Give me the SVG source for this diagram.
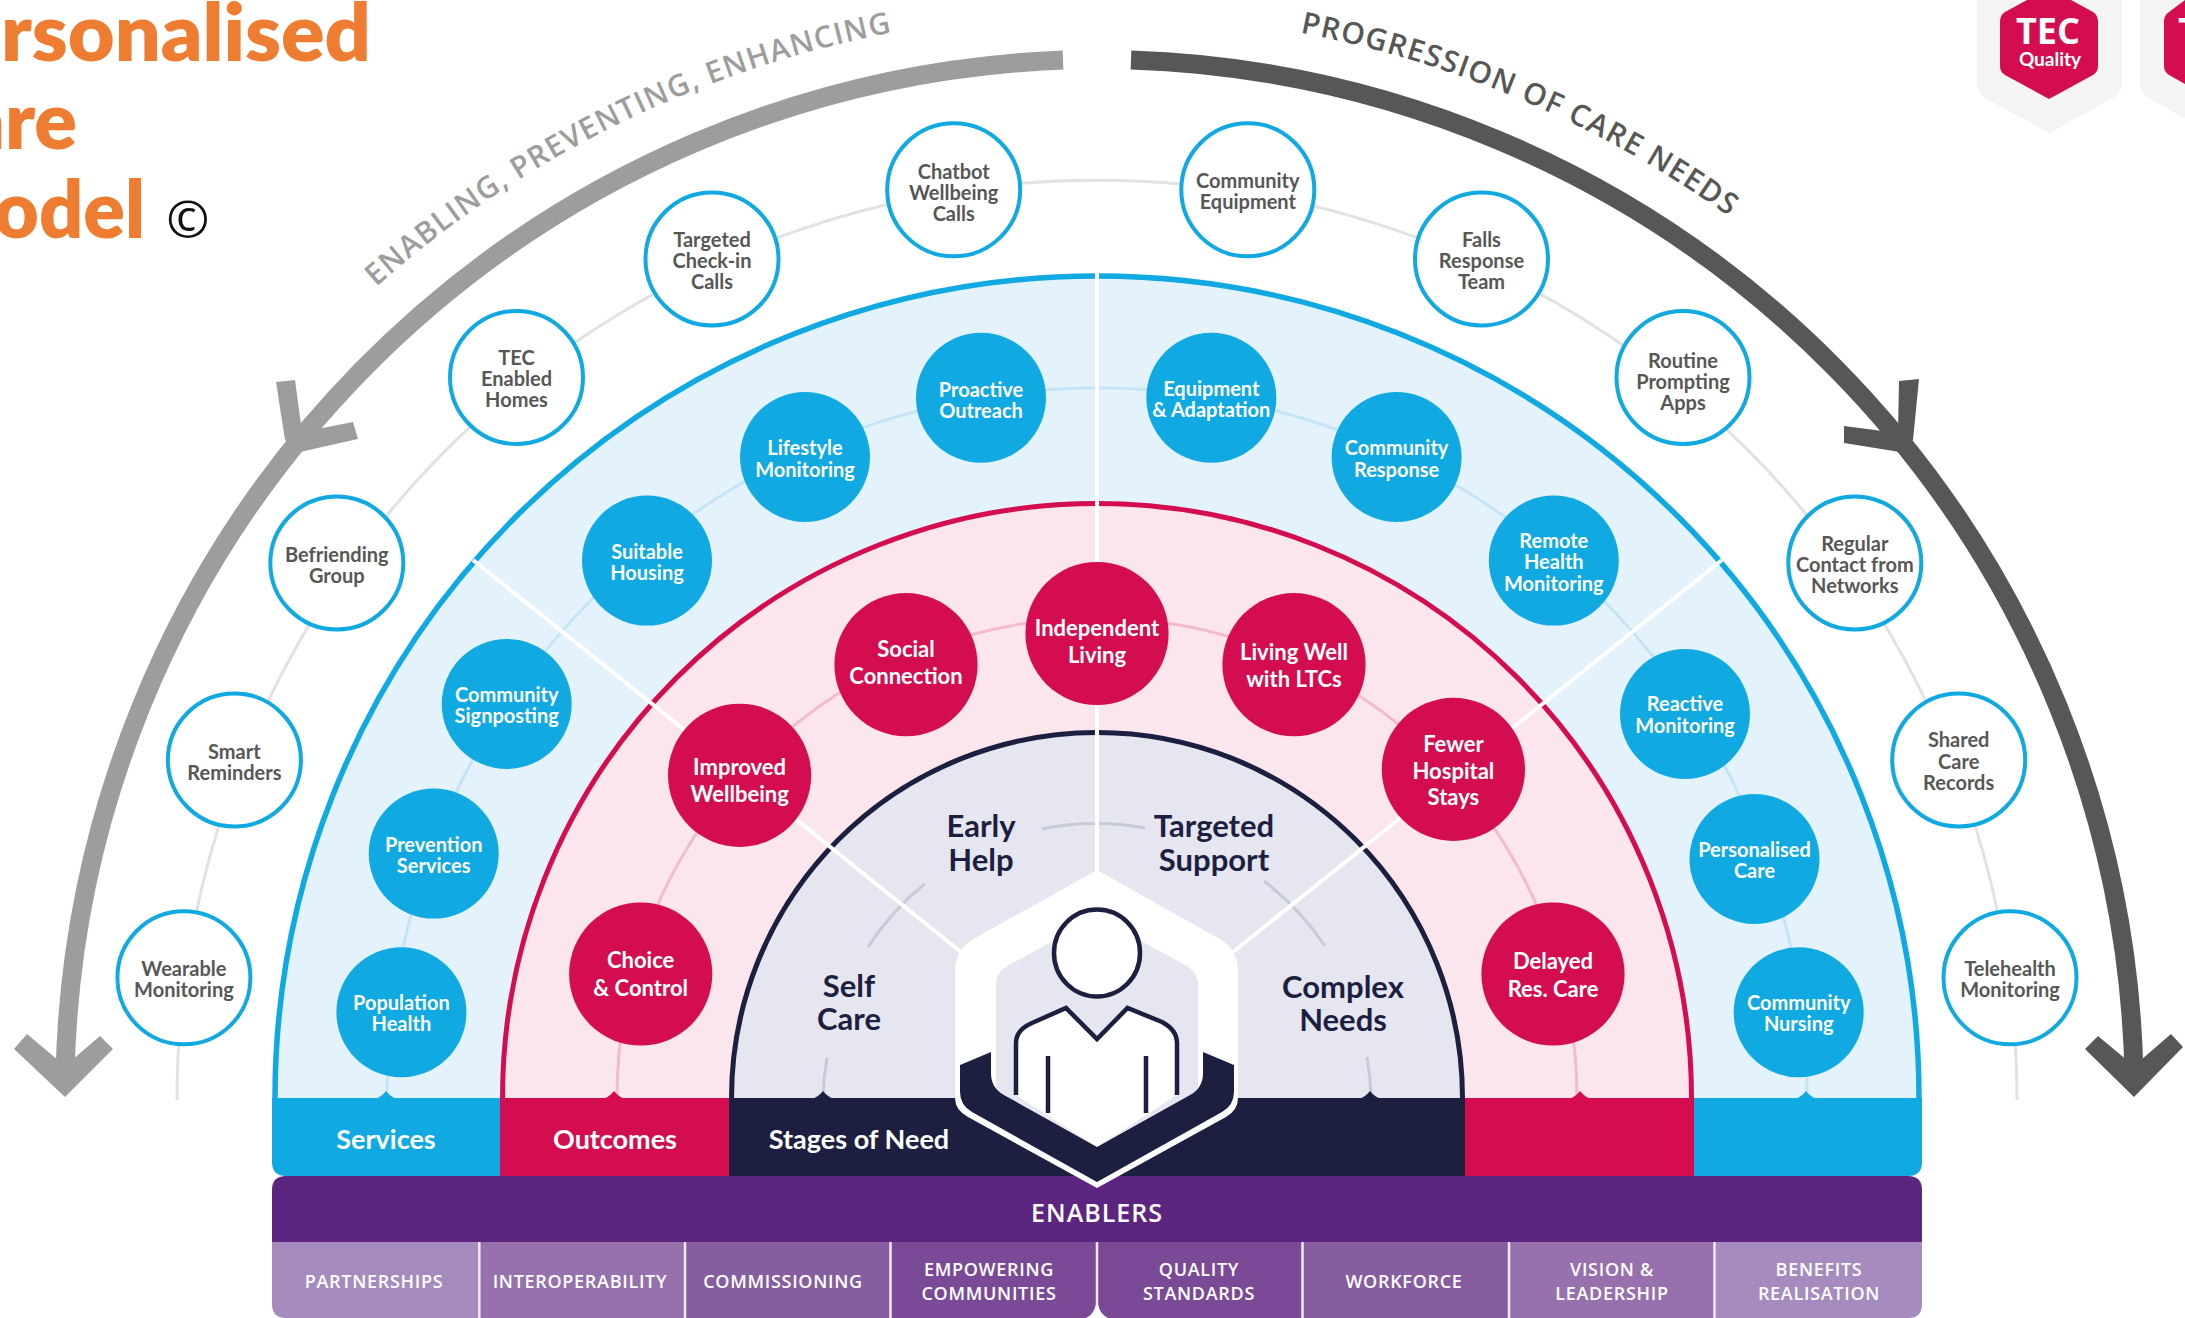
<svg xmlns="http://www.w3.org/2000/svg" width="2185" height="1318" viewBox="0 0 2185 1318">
<defs>
<style>
text{font-family:"Open Sans","Noto Sans","Liberation Sans",sans-serif;font-weight:600;text-anchor:middle}
.oc{fill:#fff;stroke:#10a9e2;stroke-width:4}
.bc{fill:#10a9e2}
.rc{fill:#d40d50}
.ot{fill:#575756;font-size:20px;font-family:Lato,"Open Sans",sans-serif;font-weight:700}
.bt{fill:#fff;font-size:20px;font-family:Lato,"Open Sans",sans-serif;font-weight:700}
.rt{fill:#fff;font-size:22px;font-family:Lato,"Open Sans",sans-serif;font-weight:700}
.st{fill:#1d1f41;font-size:31px;font-family:Lato,"Open Sans",sans-serif;font-weight:700}
.lb{fill:#fff;font-size:27px;font-family:Lato,"Open Sans",sans-serif;font-weight:700}
.en{fill:#fff;font-size:25px;letter-spacing:1px}
.ce{fill:#fff;font-size:18px;letter-spacing:.7px}
.ttl{fill:#ef7d31;font-size:79px;font-weight:800;font-family:Lato,"Open Sans",sans-serif;text-anchor:start}
.g{fill:none;stroke-width:3}
.dv{stroke:#fff;stroke-width:4;fill:none}
.sep{stroke:#efe9f3;stroke-width:2.5}
.arr{fill:none;stroke-width:19}
.curv{font-size:30px;text-anchor:start}
</style>
<path id="pl" d="M376 287A1085 1085 0 0 1 1097 13"/>
<path id="pr" d="M1300 32.600A1085 1085 0 0 1 1794 267"/>
</defs>
<rect width="2185" height="1318" fill="#fff"/>
<g id="title">
<text class="ttl" x="1" y="61" textLength="370" lengthAdjust="spacingAndGlyphs">rsonalised</text>
<text class="ttl" x="-36" y="149" textLength="113" lengthAdjust="spacingAndGlyphs">are</text>
<text class="ttl" x="-6" y="238" textLength="151" lengthAdjust="spacingAndGlyphs">odel</text>
<text x="188" y="238" style="font-size:52px;font-weight:400;fill:#111">©</text>
</g>
<g id="badge-1">
<path d="M1977 0V83Q1977 93 1987 99L2049 133L2111 99Q2122 93 2122 83V0Z" fill="#f4f4f4"/>
<path d="M2027 0L2005 12Q2000 15 2000 22V66Q2000 72 2005 75L2049 99L2093 75Q2098 72 2098 66V22Q2098 15 2093 12L2071 0Z" fill="#d40d50"/>
<text x="2048" y="44" style="fill:#fff;font-size:36px;font-weight:700">TEC</text>
<text x="2050" y="66" style="fill:#fff;font-size:19px;font-weight:700;font-family:Lato,sans-serif">Quality</text>
</g>
<g id="badge-2">
<path d="M2140 0V83Q2140 93 2150 99L2185 118V0Z" fill="#f4f4f4"/>
<path d="M2185 0L2169 12Q2164 15 2164 22V66Q2164 72 2169 75L2185 84Z" fill="#d40d50"/>
<text x="2178" y="44" style="fill:#fff;font-size:36px;font-weight:700;text-anchor:start">T</text>
</g>
<g id="rings">
<path id="ring-services" d="M275 1098A822 822 0 0 1 1919 1098" fill="#e4f3fb" stroke="#10a9e2" stroke-width="5.500"/>
<path id="ring-outcomes" d="M502.500 1098A594.500 594.500 0 0 1 1691.500 1098" fill="#fbe6ee" stroke="#d40d50" stroke-width="5"/>
<path id="ring-stages" d="M731.500 1098A365.500 365.500 0 0 1 1462.500 1098" fill="#e5e6ef" stroke="#1d1f41" stroke-width="5"/>
</g>
<g id="connectors">
<path class="g" stroke="#e2e2e2" d="M177 1100A920 920 0 0 1 2017 1100"/>
<path class="g" stroke="#c5e4f5" d="M387 1098A710 710 0 0 1 1807 1098"/>
<path class="g" stroke="#f3bccb" d="M617 1098A480 480 0 0 1 1577 1098"/>
<path class="g" stroke="#c8cad6" d="M823 1098A274 274 0 0 1 827 1058M868 947A274 274 0 0 1 924.500 884M1042 829A274 274 0 0 1 1145 828M1264 881A274 274 0 0 1 1325 946M1367 1057A274 274 0 0 1 1371 1098"/>
<path class="dv" d="M1097 273V875M473 560L961 952M1722 560L1233 952"/>
<path id="arrow-left" class="arr" stroke="#9d9d9c" d="M1063 60A1038 1038 0 0 0 65 1075"/>
<polygon fill="#9d9d9c" points="14,1049 27,1034 65,1066 100,1036 113,1049 65,1097"/>
<polygon fill="#9d9d9c" points="276,382 295,380 302,432 353,422 358,439 300,452 285,440"/>
<path id="arrow-right" class="arr" stroke="#575756" d="M1131 60A1037 1037 0 0 1 2134 1075"/>
<polygon fill="#575756" points="2085,1049 2098,1036 2134,1066 2171,1034 2183,1047 2134,1097"/>
<polygon fill="#575756" points="1899,381 1919,379 1913,440 1900,452 1844,443 1844,426 1898,433"/>
</g>
<g id="bands">
<path d="M272 1098H500V1176H286Q272 1176 272 1162Z" fill="#10a9e2"/>
<rect x="500" y="1098" width="229" height="78" fill="#d40d50"/>
<rect x="729" y="1098" width="736" height="78" fill="#1d1f41"/>
<rect x="1465" y="1098" width="229" height="78" fill="#d40d50"/>
<path d="M1694 1098H1922V1162Q1922 1176 1908 1176H1694Z" fill="#10a9e2"/>
<path d="M376 1098.500Q381 1097 386 1091Q391 1097 396 1098.500Z" fill="#10a9e2"/>
<path d="M604 1098.500Q609 1097 614 1091Q619 1097 624 1098.500Z" fill="#d40d50"/>
<path d="M813 1098.500Q818 1097 823 1091Q828 1097 833 1098.500Z" fill="#1d1f41"/>
<path d="M1360 1098.500Q1365 1097 1370 1091Q1375 1097 1380 1098.500Z" fill="#1d1f41"/>
<path d="M1570 1098.500Q1575 1097 1580 1091Q1585 1097 1590 1098.500Z" fill="#d40d50"/>
<path d="M1796 1098.500Q1801 1097 1806 1091Q1811 1097 1816 1098.500Z" fill="#10a9e2"/>
</g>
<g id="enablers">
<path d="M272 1190Q272 1176 286 1176H1908Q1922 1176 1922 1190V1242H272Z" fill="#5b2580"/>
<path d="M272 1242H479V1318H286Q272 1318 272 1304Z" fill="#a68bbe"/>
<rect x="479" y="1242" width="206" height="76" fill="#9671ad"/>
<rect x="685" y="1242" width="206" height="76" fill="#875da1"/>
<rect x="891" y="1242" width="206" height="76" fill="#7b4a97"/>
<rect x="1097" y="1242" width="206" height="76" fill="#7b4a97"/>
<rect x="1303" y="1242" width="206" height="76" fill="#875da1"/>
<rect x="1509" y="1242" width="206" height="76" fill="#9671ad"/>
<path d="M1715 1242H1922V1304Q1922 1318 1908 1318H1715Z" fill="#a68bbe"/>
<path class="sep" d="M479.300 1242V1318M685 1242V1318M890.500 1242V1318M1097 1242V1318M1302.500 1242V1318M1509 1242V1318M1714.500 1242V1318"/>
<path d="M1086 1318Q1094 1314 1095.800 1305H1098.200Q1100 1314 1108 1318Z" fill="#fff"/>
<text class="en" x="1097" y="1222">ENABLERS</text>
<text class="ce" x="374" y="1288">PARTNERSHIPS</text>
<text class="ce" x="580" y="1288">INTEROPERABILITY</text>
<text class="ce" x="783" y="1288">COMMISSIONING</text>
<text class="ce"><tspan x="989" y="1276">EMPOWERING</tspan><tspan x="989" y="1300">COMMUNITIES</tspan></text>
<text class="ce"><tspan x="1199" y="1276">QUALITY</tspan><tspan x="1199" y="1300">STANDARDS</tspan></text>
<text class="ce" x="1404" y="1288">WORKFORCE</text>
<text class="ce"><tspan x="1612" y="1276">VISION &amp;</tspan><tspan x="1612" y="1300">LEADERSHIP</tspan></text>
<text class="ce"><tspan x="1819" y="1276">BENEFITS</tspan><tspan x="1819" y="1300">REALISATION</tspan></text>
</g>
<text class="curv" fill="#9d9d9c"><textPath href="#pl" textLength="582" lengthAdjust="spacing">ENABLING, PREVENTING, ENHANCING</textPath></text>
<text class="curv" fill="#575756"><textPath href="#pr" textLength="470" lengthAdjust="spacing">PROGRESSION OF CARE NEEDS</textPath></text>
<g id="hub">
<path d="M1097 870L1218 938Q1238 949 1238 972V1098Q1238 1110 1226 1117L1097 1188L968 1117Q955 1110 955 1098V972Q955 949 975 938Z" fill="#fff"/>
<path d="M1097 917L1185 965Q1198 972 1198 985V1090L1097 1147L996 1090V985Q996 972 1009 965Z" fill="#e5e6ef"/>
<path d="M1016 1095V1043Q1016 1030 1032 1023L1066 1008L1097 1039L1127.500 1008L1162 1022Q1177 1030 1177 1043V1095L1097 1147Z" fill="#fff"/>
<path d="M1016 1095V1043Q1016 1030 1032 1023L1066 1008L1097 1039L1127.500 1008L1162 1022Q1177 1030 1177 1043V1095M1048 1056V1113M1146 1056V1113" fill="none" stroke="#1d1f41" stroke-width="4.500"/>
<ellipse cx="1097" cy="953" rx="43" ry="43.500" fill="#fff" stroke="#1d1f41" stroke-width="4.500"/>
<path d="M960 1065L991 1052V1073Q991 1088 1004 1095L1097 1147L1190 1095Q1203 1088 1203 1073V1052L1234 1065V1092Q1234 1105 1222 1112L1097 1182L972 1112Q960 1105 960 1092Z" fill="#1d1f41"/>
</g>
<g id="band-labels">
<text class="lb" x="386" y="1149">Services</text>
<text class="lb" x="615" y="1149">Outcomes</text>
<text class="lb" x="859" y="1149">Stages of Need</text>
</g>
<g id="stage-early"><text class="st"><tspan x="981" y="837">Early</tspan><tspan x="981" y="871">Help</tspan></text></g>
<g id="stage-targeted"><text class="st"><tspan x="1214" y="837">Targeted</tspan><tspan x="1214" y="871">Support</tspan></text></g>
<g id="stage-self"><text class="st"><tspan x="849" y="997">Self</tspan><tspan x="849" y="1030">Care</tspan></text></g>
<g id="stage-complex"><text class="st"><tspan x="1343" y="998">Complex</tspan><tspan x="1343" y="1031">Needs</tspan></text></g>
<g id="n-chatbot"><circle class="oc" cx="953.700" cy="189.800" r="66.500"/><text class="ot"><tspan x="953.700" y="179">Chatbot</tspan><tspan x="953.700" y="200">Wellbeing</tspan><tspan x="953.700" y="221">Calls</tspan></text></g>
<g id="n-targeted"><circle class="oc" cx="712" cy="259" r="66.500"/><text class="ot"><tspan x="712" y="247">Targeted</tspan><tspan x="712" y="268">Check-in</tspan><tspan x="712" y="289">Calls</tspan></text></g>
<g id="n-tec"><circle class="oc" cx="516.500" cy="377.500" r="66.500"/><text class="ot"><tspan x="516.500" y="365">TEC</tspan><tspan x="516.500" y="386">Enabled</tspan><tspan x="516.500" y="407">Homes</tspan></text></g>
<g id="n-befriending"><circle class="oc" cx="336.800" cy="563" r="66.500"/><text class="ot"><tspan x="336.800" y="562">Befriending</tspan><tspan x="336.800" y="583">Group</tspan></text></g>
<g id="n-smart"><circle class="oc" cx="234.400" cy="760" r="66.500"/><text class="ot"><tspan x="234.400" y="759">Smart</tspan><tspan x="234.400" y="780">Reminders</tspan></text></g>
<g id="n-wearable"><circle class="oc" cx="183.900" cy="977.800" r="66.500"/><text class="ot"><tspan x="183.900" y="976">Wearable</tspan><tspan x="183.900" y="997">Monitoring</tspan></text></g>
<g id="n-equipment"><circle class="oc" cx="1247.800" cy="189.800" r="66.500"/><text class="ot"><tspan x="1247.800" y="188">Community</tspan><tspan x="1247.800" y="209">Equipment</tspan></text></g>
<g id="n-falls"><circle class="oc" cx="1481.500" cy="259" r="66.500"/><text class="ot"><tspan x="1481.500" y="247">Falls</tspan><tspan x="1481.500" y="268">Response</tspan><tspan x="1481.500" y="289">Team</tspan></text></g>
<g id="n-routine"><circle class="oc" cx="1683" cy="377.500" r="66.500"/><text class="ot"><tspan x="1683" y="368">Routine</tspan><tspan x="1683" y="389">Prompting</tspan><tspan x="1683" y="410">Apps</tspan></text></g>
<g id="n-regular"><circle class="oc" cx="1854.800" cy="563" r="66.500"/><text class="ot"><tspan x="1854.800" y="551">Regular</tspan><tspan x="1854.800" y="572">Contact from</tspan><tspan x="1854.800" y="593">Networks</tspan></text></g>
<g id="n-shared"><circle class="oc" cx="1958.700" cy="760" r="66.500"/><text class="ot"><tspan x="1958.700" y="747">Shared</tspan><tspan x="1958.700" y="769">Care</tspan><tspan x="1958.700" y="790">Records</tspan></text></g>
<g id="n-telehealth"><circle class="oc" cx="2010" cy="977.800" r="66.500"/><text class="ot"><tspan x="2010" y="976">Telehealth</tspan><tspan x="2010" y="997">Monitoring</tspan></text></g>
<g id="s-proactive"><circle class="bc" cx="981" cy="397.700" r="65"/><text class="bt"><tspan x="981" y="396.500">Proactive</tspan><tspan x="981" y="417.500">Outreach</tspan></text></g>
<g id="s-lifestyle"><circle class="bc" cx="805" cy="457" r="65"/><text class="bt"><tspan x="805" y="455">Lifestyle</tspan><tspan x="805" y="477">Monitoring</tspan></text></g>
<g id="s-suitable"><circle class="bc" cx="647" cy="560.600" r="65"/><text class="bt"><tspan x="647" y="559">Suitable</tspan><tspan x="647" y="580">Housing</tspan></text></g>
<g id="s-signposting"><circle class="bc" cx="506.700" cy="704" r="65"/><text class="bt"><tspan x="506.700" y="702">Community</tspan><tspan x="506.700" y="723">Signposting</tspan></text></g>
<g id="s-prevention"><circle class="bc" cx="433.700" cy="853.600" r="65"/><text class="bt"><tspan x="433.700" y="851.500">Prevention</tspan><tspan x="433.700" y="872.500">Services</tspan></text></g>
<g id="s-population"><circle class="bc" cx="401.400" cy="1012.300" r="65"/><text class="bt"><tspan x="401.400" y="1010">Population</tspan><tspan x="401.400" y="1031">Health</tspan></text></g>
<g id="s-equipment"><circle class="bc" cx="1211.300" cy="397.700" r="65"/><text class="bt"><tspan x="1211.300" y="396">Equipment</tspan><tspan x="1211.300" y="417">&amp; Adaptation</tspan></text></g>
<g id="s-response"><circle class="bc" cx="1396.600" cy="457" r="65"/><text class="bt"><tspan x="1396.600" y="455">Community</tspan><tspan x="1396.600" y="477">Response</tspan></text></g>
<g id="s-remote"><circle class="bc" cx="1553.800" cy="560.600" r="65"/><text class="bt"><tspan x="1553.800" y="548">Remote</tspan><tspan x="1553.800" y="569">Health</tspan><tspan x="1553.800" y="591">Monitoring</tspan></text></g>
<g id="s-reactive"><circle class="bc" cx="1685" cy="713.900" r="65"/><text class="bt"><tspan x="1685" y="711">Reactive</tspan><tspan x="1685" y="733">Monitoring</tspan></text></g>
<g id="s-personalised"><circle class="bc" cx="1754.500" cy="859" r="65"/><text class="bt"><tspan x="1754.500" y="857">Personalised</tspan><tspan x="1754.500" y="878">Care</tspan></text></g>
<g id="s-nursing"><circle class="bc" cx="1798.700" cy="1012.300" r="65"/><text class="bt"><tspan x="1798.700" y="1010">Community</tspan><tspan x="1798.700" y="1031">Nursing</tspan></text></g>
<g id="o-independent"><circle class="rc" cx="1097" cy="633.500" r="71.600"/><text class="rt"><tspan x="1097" y="636">Independent</tspan><tspan x="1097" y="663">Living</tspan></text></g>
<g id="o-social"><circle class="rc" cx="906" cy="664.700" r="71.600"/><text class="rt"><tspan x="906" y="657">Social</tspan><tspan x="906" y="684">Connection</tspan></text></g>
<g id="o-improved"><circle class="rc" cx="739.600" cy="775.300" r="71.600"/><text class="rt"><tspan x="739.600" y="775">Improved</tspan><tspan x="739.600" y="802">Wellbeing</tspan></text></g>
<g id="o-choice"><circle class="rc" cx="640.700" cy="974" r="71.600"/><text class="rt"><tspan x="640.700" y="968">Choice</tspan><tspan x="640.700" y="996">&amp; Control</tspan></text></g>
<g id="o-living"><circle class="rc" cx="1294" cy="664.700" r="71.600"/><text class="rt"><tspan x="1294" y="660">Living Well</tspan><tspan x="1294" y="687">with LTCs</tspan></text></g>
<g id="o-fewer"><circle class="rc" cx="1453.400" cy="769.400" r="71.600"/><text class="rt"><tspan x="1453.400" y="752">Fewer</tspan><tspan x="1453.400" y="779">Hospital</tspan><tspan x="1453.400" y="805">Stays</tspan></text></g>
<g id="o-delayed"><circle class="rc" cx="1553" cy="974" r="71.600"/><text class="rt"><tspan x="1553" y="969">Delayed</tspan><tspan x="1553" y="997">Res. Care</tspan></text></g>
</svg>
